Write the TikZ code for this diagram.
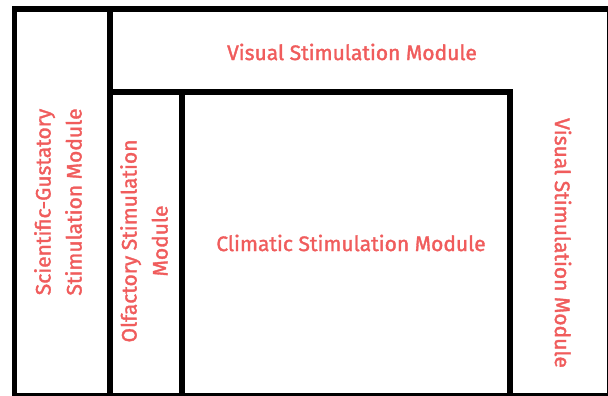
\documentclass[tikz,border=0pt]{standalone}
\usepackage{fontspec}
\setmainfont{Fira Sans}[FakeBold=1.6]
\definecolor{labelred}{RGB}{240,92,92}
\begin{document}
\begin{tikzpicture}[x=1pt,y=-1pt,
  frame/.style={line width=5.5pt,draw=black},
  label/.style={text=labelred,font=\fontsize{21}{31}\selectfont,align=center,inner sep=0pt}]
\useasboundingbox (0,0) rectangle (608,396);
\clip (0,0) rectangle (608,396);
\fill[white] (0,0) rectangle (608,396);
% outer frame
\draw[frame] (14.5,9) rectangle (610,395.5);
% inner divisions
\draw[frame] (110,9) -- (110,395.5);
\draw[frame] (110,92) -- (510,92) -- (510,398);
\draw[frame] (182,92) -- (182,395.5);
% labels
\node[label] (topvis) at (352,52) {Visual Stimulation Module};
\node[label,rotate=90] (sci) at (58,202) {Scientific-Gustatory\\Stimulation Module};
\node[label,rotate=90] (olf) at (144,241) {Olfactory Stimulation\\Module};
\node[label] (clim) at (351,243) {Climatic Stimulation Module};
\node[label,rotate=-90] (rightvis) at (563,243) {Visual Stimulation Module};
\end{tikzpicture}
\end{document}
